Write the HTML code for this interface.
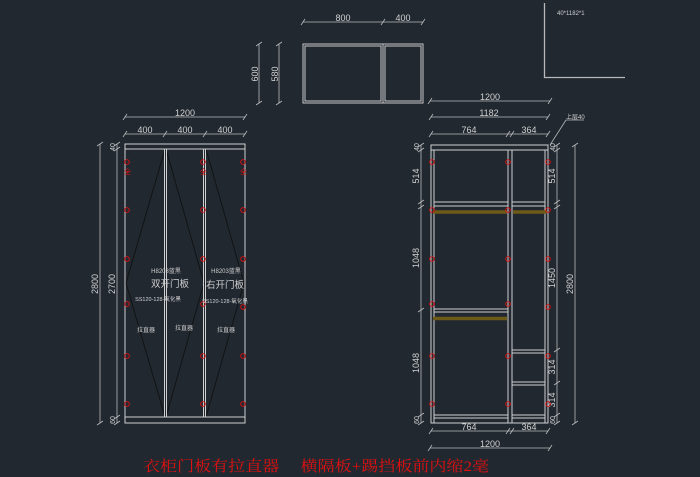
<!DOCTYPE html>
<html><head><meta charset="utf-8"><style>
html,body{margin:0;padding:0;background:#212830;}
svg{display:block}
text{font-family:"Liberation Sans","Noto Sans CJK SC",sans-serif;fill:#d0d0d0;}
</style></head><body>
<svg width="700" height="477" viewBox="0 0 700 477" xmlns="http://www.w3.org/2000/svg">
<rect width="700" height="477" fill="#212830"/>
<!-- top-right L -->
<g stroke="#b8b8b8" stroke-width="1.3" fill="none">
<path d="M544.5 3 V77.5 H625"/>
</g>
<text x="557" y="15" font-size="6">40*1182*1</text>

<!-- top view -->
<g stroke="#c8c8c8" fill="none" stroke-width="1">
<rect x="303" y="44" width="120" height="59"/>
<rect x="305" y="46" width="76" height="55"/>
<rect x="385" y="46" width="36" height="55"/>
<line x1="383" y1="44" x2="383" y2="103"/>
</g>
<g stroke="#bbb" stroke-width="0.8" fill="none">
<line x1="303" y1="22" x2="423" y2="22"/>
<path d="M301 25 l4 -6 M381 25 l4 -6 M421 25 l4 -6"/>
<line x1="259" y1="44" x2="259" y2="103"/>
<line x1="279" y1="44" x2="279" y2="103"/>
<path d="M256 46 l6 -4 M256 105 l6 -4 M276 46 l6 -4 M276 105 l6 -4"/>
<line x1="430" y1="101" x2="550" y2="101"/>
<path d="M428 104 l4 -6 M548 104 l4 -6"/>
</g>
<text x="343" y="21" font-size="9" text-anchor="middle">800</text>
<text x="403" y="21" font-size="9" text-anchor="middle">400</text>
<text x="258" y="74" font-size="9" text-anchor="middle" transform="rotate(-90 258 74)">600</text>
<text x="278" y="74" font-size="9" text-anchor="middle" transform="rotate(-90 278 74)">580</text>
<text x="490" y="100" font-size="9" text-anchor="middle">1200</text>

<!-- LEFT ELEVATION -->
<g stroke="#bbb" stroke-width="0.8" fill="none">
<line x1="125" y1="117" x2="245" y2="117"/>
<path d="M123 120 l4 -6 M243 120 l4 -6"/>
<line x1="125" y1="134" x2="245" y2="134"/>
<path d="M123 137 l4 -6 M163 137 l4 -6 M203 137 l4 -6 M243 137 l4 -6"/>
<line x1="100" y1="144" x2="100" y2="423"/>
<path d="M97 146 l6 -4 M97 425 l6 -4"/>
<line x1="117" y1="144" x2="117" y2="423"/>
<path d="M114 146 l6 -4 M114 151 l6 -4 M114 419 l6 -4 M114 425 l6 -4"/>
</g>
<text x="185" y="116" font-size="9" text-anchor="middle">1200</text>
<text x="145" y="133" font-size="9" text-anchor="middle">400</text>
<text x="185" y="133" font-size="9" text-anchor="middle">400</text>
<text x="225" y="133" font-size="9" text-anchor="middle">400</text>
<text x="98" y="284" font-size="9" text-anchor="middle" transform="rotate(-90 98 284)">2800</text>
<text x="115" y="284" font-size="9" text-anchor="middle" transform="rotate(-90 115 284)">2700</text>
<text x="115" y="147" font-size="7" text-anchor="middle" transform="rotate(-90 115 147)">40</text>
<text x="115" y="420" font-size="7" text-anchor="middle" transform="rotate(-90 115 420)">60</text>

<g stroke="#111" stroke-width="0.9" fill="none">
<path d="M165 149 L126 283 L165 417"/>
<path d="M166 149 L204 283 L166 417"/>
<path d="M206 149 L244 283 L206 417"/>
</g>
<g stroke="#d0d0d0" stroke-width="1" fill="none">
<rect x="125" y="144" width="120" height="279"/>
<line x1="125" y1="149" x2="245" y2="149"/>
<line x1="125" y1="417" x2="245" y2="417"/>
<line x1="164.5" y1="149" x2="164.5" y2="417"/>
<line x1="166.5" y1="149" x2="166.5" y2="417"/>
<line x1="203.5" y1="149" x2="203.5" y2="417"/>
<line x1="205.5" y1="149" x2="205.5" y2="417"/>
</g>
<g stroke="#e01010" stroke-width="0.9" fill="none">
<circle cx="127" cy="162" r="2.3"/><circle cx="203" cy="162" r="2.3"/><circle cx="243" cy="162" r="2.3"/>
<circle cx="127" cy="210" r="2.3"/><circle cx="203" cy="210" r="2.3"/><circle cx="243" cy="210" r="2.3"/>
<circle cx="127" cy="259" r="2.3"/><circle cx="203" cy="259" r="2.3"/><circle cx="243" cy="259" r="2.3"/>
<circle cx="127" cy="304" r="2.3"/><circle cx="203" cy="304" r="2.3"/><circle cx="243" cy="307" r="2.3"/>
<circle cx="127" cy="356" r="2.3"/><circle cx="203" cy="356" r="2.3"/><circle cx="243" cy="356" r="2.3"/>
<circle cx="127" cy="404" r="2.3"/><circle cx="203" cy="404" r="2.3"/><circle cx="243" cy="404" r="2.3"/>
</g>
<g font-size="7" style="fill:#e01010">
<text x="124" y="174" style="fill:#e01010">全</text><text x="200" y="174" style="fill:#e01010">全</text><text x="240" y="174" style="fill:#e01010">全</text>
</g>
<text x="166" y="273" font-size="6" text-anchor="middle">H8203蓝黑</text>
<text x="226" y="273" font-size="6" text-anchor="middle">H8203蓝黑</text>
<text x="170" y="287" font-size="9.5" text-anchor="middle">双开门板</text>
<text x="225" y="288" font-size="9.5" text-anchor="middle">右开门板</text>
<text x="158" y="301" font-size="5.5" text-anchor="middle">SS120-128-氧化黑</text>
<text x="225" y="303" font-size="5.5" text-anchor="middle">SS120-128-氧化黑</text>
<text x="146" y="332" font-size="6" text-anchor="middle">拉直器</text>
<text x="184" y="330" font-size="6" text-anchor="middle">拉直器</text>
<text x="226" y="332" font-size="6" text-anchor="middle">拉直器</text>

<!-- RIGHT ELEVATION -->
<g stroke="#bbb" stroke-width="0.8" fill="none">
<line x1="431" y1="117" x2="548" y2="117"/>
<path d="M429 120 l4 -6 M546 120 l4 -6"/>
<line x1="431" y1="134" x2="548" y2="134"/>
<path d="M429 137 l4 -6 M506 137 l4 -6 M510 137 l4 -6 M546 137 l4 -6"/>
<line x1="421" y1="145" x2="421" y2="423"/>
<path d="M418 147 l6 -4 M418 152 l6 -4 M418 204 l6 -4 M418 209 l6 -4 M418 312 l6 -4 M418 417 l6 -4 M418 425 l6 -4"/>
<line x1="557" y1="145" x2="557" y2="423"/>
<path d="M554 147 l6 -4 M554 152 l6 -4 M554 204 l6 -4 M554 209 l6 -4 M554 352 l6 -4 M554 385 l6 -4 M554 417 l6 -4 M554 425 l6 -4"/>
<line x1="575" y1="145" x2="575" y2="423"/>
<path d="M572 147 l6 -4 M572 425 l6 -4"/>
<line x1="431" y1="431" x2="548" y2="431"/>
<path d="M429 434 l4 -6 M506 434 l4 -6 M510 434 l4 -6 M546 434 l4 -6"/>
<line x1="430" y1="448" x2="550" y2="448"/>
<path d="M428 451 l4 -6 M548 451 l4 -6"/>
<line x1="550" y1="145" x2="566" y2="120"/>
<line x1="566" y1="120" x2="584" y2="120"/>
</g>
<text x="489" y="116" font-size="9" text-anchor="middle">1182</text>
<text x="469" y="133" font-size="9" text-anchor="middle">764</text>
<text x="529" y="133" font-size="9" text-anchor="middle">364</text>
<text x="469" y="430" font-size="9" text-anchor="middle">764</text>
<text x="529" y="430" font-size="9" text-anchor="middle">364</text>
<text x="490" y="447" font-size="9" text-anchor="middle">1200</text>
<text x="566" y="119" font-size="6">上层40</text>
<g font-size="9" text-anchor="middle">
<text x="419" y="176" transform="rotate(-90 419 176)">514</text>
<text x="419" y="258" transform="rotate(-90 419 258)">1048</text>
<text x="419" y="363" transform="rotate(-90 419 363)">1048</text>
<text x="555" y="176" transform="rotate(-90 555 176)">514</text>
<text x="555" y="278" transform="rotate(-90 555 278)">1450</text>
<text x="555" y="367" transform="rotate(-90 555 367)">314</text>
<text x="555" y="400" transform="rotate(-90 555 400)">314</text>
<text x="573" y="284" transform="rotate(-90 573 284)">2800</text>
</g>
<g font-size="7" text-anchor="middle">
<text x="419" y="147" transform="rotate(-90 419 147)">40</text>
<text x="419" y="420" transform="rotate(-90 419 420)">60</text>
<text x="555" y="147" transform="rotate(-90 555 147)">40</text>
<text x="555" y="420" transform="rotate(-90 555 420)">60</text>
</g>

<g stroke="#d0d0d0" stroke-width="1" fill="none">
<rect x="431" y="145" width="117" height="278"/>
<line x1="431" y1="150" x2="548" y2="150"/>
<line x1="434" y1="150" x2="434" y2="423"/>
<line x1="545" y1="150" x2="545" y2="423"/>
<line x1="508" y1="150" x2="508" y2="423"/>
<line x1="512" y1="150" x2="512" y2="423"/>
<line x1="434" y1="202" x2="508" y2="202"/><line x1="434" y1="206" x2="508" y2="206"/>
<line x1="512" y1="202" x2="545" y2="202"/><line x1="512" y1="206" x2="545" y2="206"/>
<line x1="434" y1="309" x2="508" y2="309"/><line x1="434" y1="312" x2="508" y2="312"/>
<line x1="512" y1="350" x2="545" y2="350"/><line x1="512" y1="353" x2="545" y2="353"/>
<line x1="512" y1="382" x2="545" y2="382"/><line x1="512" y1="385" x2="545" y2="385"/>
<line x1="434" y1="415" x2="508" y2="415"/><line x1="434" y1="418" x2="508" y2="418"/>
<line x1="512" y1="415" x2="545" y2="415"/><line x1="512" y1="418" x2="545" y2="418"/>
</g>
<g stroke="#6e5a18" stroke-width="3.5">
<line x1="433" y1="212" x2="507" y2="212"/>
<line x1="513" y1="212" x2="547" y2="212"/>
<line x1="433" y1="318.5" x2="507" y2="318.5"/>
</g>
<g stroke="#e01010" stroke-width="0.9" fill="none">
<circle cx="432" cy="162" r="2.3"/><circle cx="508" cy="162" r="2.3"/><circle cx="548" cy="162" r="2.3"/>
<circle cx="432" cy="210" r="2.3"/><circle cx="508" cy="210" r="2.3"/><circle cx="548" cy="210" r="2.3"/>
<circle cx="432" cy="259" r="2.3"/><circle cx="508" cy="259" r="2.3"/><circle cx="548" cy="259" r="2.3"/>
<circle cx="432" cy="304" r="2.3"/><circle cx="508" cy="304" r="2.3"/><circle cx="548" cy="307" r="2.3"/>
<circle cx="432" cy="356" r="2.3"/><circle cx="508" cy="356" r="2.3"/><circle cx="548" cy="356" r="2.3"/>
<circle cx="432" cy="404" r="2.3"/><circle cx="508" cy="404" r="2.3"/><circle cx="548" cy="404" r="2.3"/>
</g>

<text x="143" y="471" font-size="15" textLength="346" lengthAdjust="spacingAndGlyphs" style="fill:#e01010;font-family:'Liberation Serif','Noto Serif CJK SC',serif">衣柜门板有拉直器　 横隔板+踢挡板前内缩2毫</text>
</svg>
</body></html>
